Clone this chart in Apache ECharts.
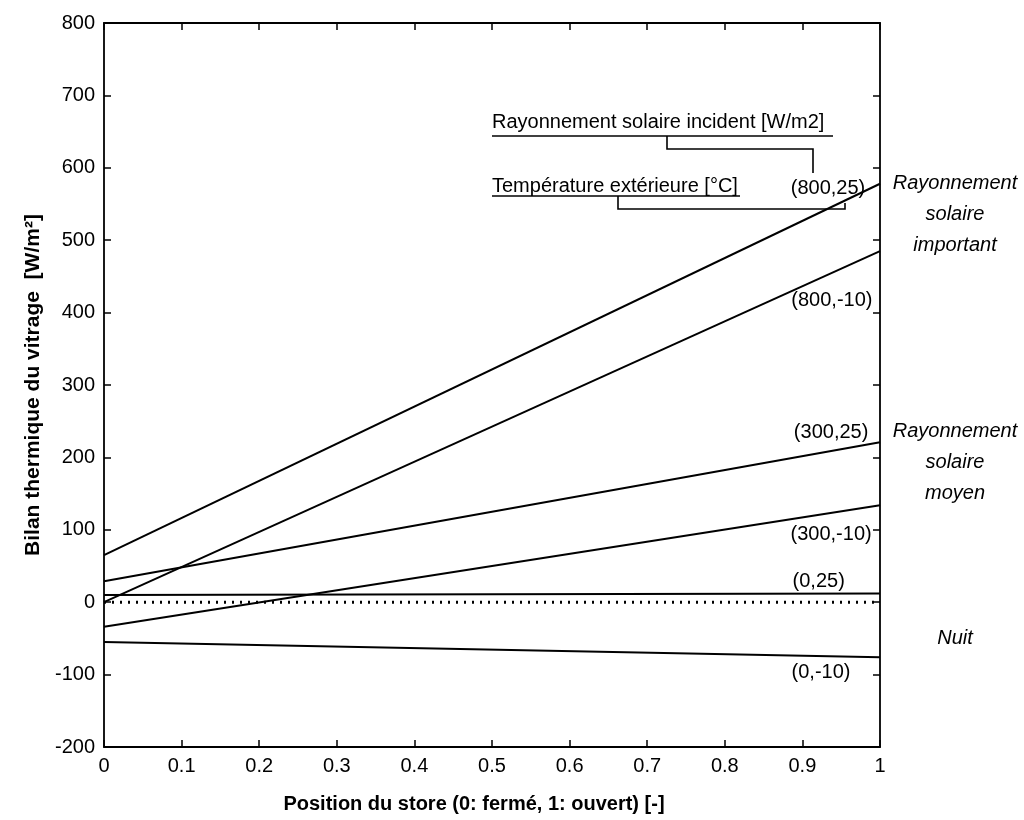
<!DOCTYPE html>
<html>
<head>
<meta charset="utf-8">
<script src="https://cdn.jsdelivr.net/npm/echarts@6/dist/echarts.min.js"></script>
<style>html,body{margin:0;padding:0;background:#fff}#c{width:1024px;height:820px}</style>
</head>
<body>
<div id="c"></div>
<script>
// Store positions (x) at which each line is given
const positions = [0, 1];
// Series labels (solar radiation W/m2, outside temperature °C)
const seriesNames = ['(800,25)', '(800,-10)', '(300,25)', '(300,-10)', '(0,25)', '(0,-10)'];
// Values at positions 0 and 1
const s800_25 = [65, 578];
const s800_m10 = [0, 485];
const s300_25 = [29, 221];
const s300_m10 = [-34, 134];
const s0_25 = [10, 12];
const s0_m10 = [-55, -76];
const zeroLine = [0, 0];
// Label anchor points (x position, value) for each series label
const labelX = [0.933, 0.938, 0.937, 0.937, 0.921, 0.924];
const labelY = [572, 417, 235, 93, 28, -97];
// Axis ticks
const xTicks = { min: 0, max: 1, interval: 0.1 };
const yTicks = { min: -200, max: 800, interval: 100 };

const allSeries = [s800_25, s800_m10, s300_25, s300_m10, s0_25, s0_m10];
const FONT = '"Liberation Sans", Arial, Helvetica, sans-serif';

const chart = echarts.init(document.getElementById('c'), null, { renderer: 'canvas' });

const lineSeries = allSeries.map((vals, i) => ({
  name: seriesNames[i],
  type: 'line',
  data: positions.map((p, j) => [p, vals[j]]),
  symbol: 'none',
  lineStyle: { color: '#000', width: 2 },
  silent: true,
  z: 3
}));

const zeroSeries = {
  type: 'line',
  data: positions.map((p, j) => [p, zeroLine[j]]),
  symbol: 'none',
  lineStyle: { color: '#000', width: 3, type: [2, 6] },
  silent: true,
  z: 2
};

const labelSeries = {
  type: 'scatter',
  symbolSize: 0,
  itemStyle: { opacity: 1 },
  data: seriesNames.map((n, i) => ({ value: [labelX[i], labelY[i]], name: n })),
  label: {
    show: true, position: 'inside',
    formatter: p => p.name,
    color: '#000', opacity: 1, fontFamily: FONT, fontSize: 20
  },
  silent: true,
  z: 5
};

const axisCommon = {
  axisLine: { show: true, onZero: false, lineStyle: { color: '#000', width: 1.8 } },
  axisTick: { show: true, inside: true, length: 7, lineStyle: { color: '#000', width: 1.5 } },
  splitLine: { show: false }
};

const option = {
  animation: false,
  backgroundColor: '#fff',
  grid: { left: 104, right: 144, top: 23, bottom: 73, containLabel: false },
  xAxis: [
    Object.assign({
      type: 'value', position: 'bottom',
      min: xTicks.min, max: xTicks.max, interval: xTicks.interval,
      axisLabel: { color: '#000', fontFamily: FONT, fontSize: 20, margin: 9,
        formatter: v => String(Math.round(v * 10) / 10) },
      name: 'Position du store (0: fermé, 1: ouvert) [-]',
      nameLocation: 'middle', nameGap: 47,
      nameTextStyle: { color: '#000', fontFamily: FONT, fontSize: 20, fontWeight: 'bold', padding: [0, 36, 0, 0] }
    }, axisCommon),
    Object.assign({
      type: 'value', position: 'top',
      min: xTicks.min, max: xTicks.max, interval: xTicks.interval,
      axisLabel: { show: false }
    }, axisCommon)
  ],
  yAxis: [
    Object.assign({
      type: 'value', position: 'left',
      min: yTicks.min, max: yTicks.max, interval: yTicks.interval,
      axisLabel: { color: '#000', fontFamily: FONT, fontSize: 20, margin: 9 },
      name: 'Bilan thermique du vitrage  [W/m²]',
      nameLocation: 'middle', nameGap: 60,
      nameTextStyle: { color: '#000', fontFamily: FONT, fontSize: 21, fontWeight: 'bold' }
    }, axisCommon),
    Object.assign({
      type: 'value', position: 'right',
      min: yTicks.min, max: yTicks.max, interval: yTicks.interval,
      axisLabel: { show: false }
    }, axisCommon)
  ],
  series: [zeroSeries].concat(lineSeries, [labelSeries]),
  graphic: [
    { type: 'text', x: 492, y: 122, style: { text: 'Rayonnement solaire incident [W/m2]', fill: '#000', font: '20px ' + FONT, verticalAlign: 'middle' } },
    { type: 'line', shape: { x1: 492, y1: 136, x2: 833, y2: 136 }, style: { stroke: '#000', lineWidth: 1.6 } },
    { type: 'polyline', shape: { points: [[667, 136], [667, 149], [813, 149], [813, 173]] }, style: { stroke: '#000', lineWidth: 1.6, fill: null } },
    { type: 'text', x: 492, y: 186, style: { text: 'Température extérieure [°C]', fill: '#000', font: '20px ' + FONT, verticalAlign: 'middle' } },
    { type: 'line', shape: { x1: 492, y1: 196, x2: 740, y2: 196 }, style: { stroke: '#000', lineWidth: 1.6 } },
    { type: 'polyline', shape: { points: [[618, 196], [618, 209], [845, 209], [845, 203]] }, style: { stroke: '#000', lineWidth: 1.6, fill: null } },
    { type: 'text', x: 955, y: 214, style: { text: 'Rayonnement\nsolaire\nimportant', fill: '#000', font: 'italic 20px ' + FONT, align: 'center', verticalAlign: 'middle', lineHeight: 31 } },
    { type: 'text', x: 955, y: 462, style: { text: 'Rayonnement\nsolaire\nmoyen', fill: '#000', font: 'italic 20px ' + FONT, align: 'center', verticalAlign: 'middle', lineHeight: 31 } },
    { type: 'text', x: 955, y: 638, style: { text: 'Nuit', fill: '#000', font: 'italic 20px ' + FONT, align: 'center', verticalAlign: 'middle' } }
  ]
};
chart.setOption(option);
</script>
</body>
</html>
